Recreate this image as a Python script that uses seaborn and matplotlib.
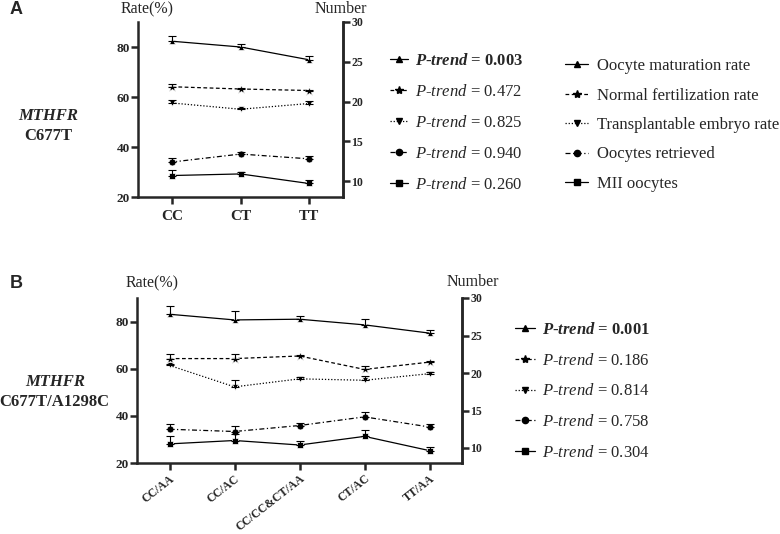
import matplotlib
matplotlib.use("Agg")
import matplotlib.pyplot as plt
from matplotlib.lines import Line2D
import seaborn as sns
import numpy as np
import pandas as pd

# ---------------------------------------------------------------
# Data
# ---------------------------------------------------------------
a_groups = ["CC", "CT", "TT"]
a_maturation = [82.3, 80.0, 74.9]
a_maturation_err = [2.3, 1.3, 1.6]
a_fertilization = [64.1, 63.2, 62.6]
a_fertilization_err = [1.3, 0.4, 0.4]
a_transplant = [57.6, 55.1, 57.4]
a_transplant_err = [1.1, 0.4, 0.9]
a_retrieved = [12.4, 13.4, 12.8]
a_retrieved_err = [0.5, 0.2, 0.3]
a_mii = [10.7, 10.9, 9.7]
a_mii_err = [0.75, 0.3, 0.45]
a_ptrend = ["0.003", "0.472", "0.825", "0.940", "0.260"]

b_groups = ["CC/AA", "CC/AC", "CC/CC&CT/AA", "CT/AC", "TT/AA"]
b_maturation = [83.1, 80.7, 81.0, 78.6, 75.1]
b_maturation_err = [3.3, 3.8, 1.4, 2.4, 1.3]
b_fertilization = [64.3, 64.3, 65.4, 59.7, 62.8]
b_fertilization_err = [2.1, 2.1, 0.4, 1.4, 0.4]
b_transplant = [61.4, 52.3, 55.7, 55.1, 57.9]
b_transplant_err = [0.4, 2.8, 0.9, 1.8, 0.5]
b_retrieved = [12.5, 12.2, 13.0, 14.15, 12.8]
b_retrieved_err = [0.65, 0.75, 0.35, 0.6, 0.35]
b_mii = [10.55, 11.0, 10.4, 11.55, 9.65]
b_mii_err = [1.1, 0.85, 0.5, 0.9, 0.5]
b_ptrend = ["0.001", "0.186", "0.814", "0.758", "0.304"]

series_names = ["Oocyte maturation rate", "Normal fertilization rate",
                "Transplantable embryo rate", "Oocytes retrieved", "MII oocytes"]

# ---------------------------------------------------------------
# Style
# ---------------------------------------------------------------
sns.set_style("ticks")
plt.rcParams['font.family'] = ['Liberation Serif', 'DejaVu Serif']
plt.rcParams['mathtext.fontset'] = 'custom'
plt.rcParams['mathtext.rm'] = 'Liberation Serif'
plt.rcParams['mathtext.it'] = 'Liberation Serif:italic'
plt.rcParams['mathtext.bf'] = 'Liberation Serif:bold'
plt.rcParams['mathtext.bfit'] = 'Liberation Serif:italic:bold'

styles = [
    dict(marker="^", linestyle="-", markersize=5),
    dict(marker="*", linestyle=(0, (3, 2)), markersize=6.5),
    dict(marker="v", linestyle=(0, (1, 1.5)), markersize=5),
    dict(marker="o", linestyle=(0, (4, 2, 1, 2)), markersize=5),
    dict(marker="s", linestyle="-", markersize=5),
]

W, H = 780, 534
fig = plt.figure(figsize=(W / 100, H / 100), dpi=100)


def px_axes(x0, y0, x1, y1):
    return fig.add_axes([x0 / W, 1 - y1 / H, (x1 - x0) / W, (y1 - y0) / H])


def draw_panel(ax, groups, rates, rate_errs, nums, num_errs, rotate):
    ax2 = ax.twinx()
    for i, (vals, errs) in enumerate(zip(rates, rate_errs)):
        df = pd.DataFrame({"group": groups, "value": vals})
        st = styles[i]
        sns.lineplot(data=df, x="group", y="value", ax=ax, color="black", lw=0.9,
                     marker=st["marker"], markersize=st["markersize"],
                     linestyle=st["linestyle"], markeredgewidth=0.5, sort=False)
        ax.errorbar(groups, vals, yerr=[np.zeros(len(errs)), errs], fmt="none",
                    ecolor="black", elinewidth=0.8, capsize=3, capthick=0.8)
    for j, (vals, errs) in enumerate(zip(nums, num_errs)):
        df = pd.DataFrame({"group": groups, "value": vals})
        st = styles[3 + j]
        sns.lineplot(data=df, x="group", y="value", ax=ax2, color="black", lw=0.9,
                     marker=st["marker"], markersize=st["markersize"],
                     linestyle=st["linestyle"], markeredgewidth=0.5, sort=False)
        ax2.errorbar(groups, vals, yerr=[np.zeros(len(errs)), errs], fmt="none",
                     ecolor="black", elinewidth=0.8, capsize=3, capthick=0.8)

    ax.set_xlim(-0.5, len(groups) - 0.5)
    ax.set_ylim(20, 90)
    ax.set_yticks([20, 40, 60, 80])
    ax2.set_ylim(8, 30)
    ax2.set_yticks([10, 15, 20, 25, 30])
    for a in (ax, ax2):
        a.set_xlabel("")
        a.set_ylabel("")
        a.spines["top"].set_visible(False)
        for s in a.spines.values():
            s.set_linewidth(1.8)
        a.tick_params(width=1.8, length=5, labelsize=9.5, pad=1)
        for lab in a.get_yticklabels():
            lab.set_fontweight("bold")
    ax2.spines["left"].set_visible(False)
    ax2.spines["bottom"].set_visible(False)
    ax2.tick_params(labelsize=8.5)
    for lab in ax2.get_yticklabels():
        lab.set_fontweight("bold")
    ax.set_xticks(range(len(groups)))
    ax.set_xticklabels(groups, fontweight="bold")
    if rotate:
        ax.tick_params(axis="x", pad=2)
        for lab in ax.get_xticklabels():
            lab.set_rotation(38)
            lab.set_ha("right")
            lab.set_rotation_mode("anchor")
            lab.set_fontsize(8.5)
    else:
        ax.tick_params(axis="x", labelsize=11, pad=4)
    return ax2


def handles():
    return [Line2D([0], [0], color="black", lw=0.9, marker=st["marker"],
                   markersize=st["markersize"] - 0.5, linestyle=st["linestyle"])
            for st in styles]


def ptrend_labels(vals):
    labs = [r"$\mathbfit{P}$-$\mathbfit{trend}$ = " + vals[0]]
    labs += [r"$\mathit{P}$-$\mathit{trend}$ = " + v for v in vals[1:]]
    return labs


# ---------------------------------------------------------------
# Panel A
# ---------------------------------------------------------------
axA = px_axes(138, 22, 343, 197)
draw_panel(axA, a_groups, [a_maturation, a_fertilization, a_transplant],
           [a_maturation_err, a_fertilization_err, a_transplant_err],
           [a_retrieved, a_mii], [a_retrieved_err, a_mii_err], rotate=False)

legA = fig.legend(handles(), ptrend_labels(a_ptrend), loc="upper left",
                  bbox_to_anchor=(390 / W, 1 - 53 / H), frameon=False, fontsize=12,
                  borderpad=0, borderaxespad=0, handlelength=1.1, handletextpad=0.4,
                  labelspacing=0.9)
legA.get_texts()[0].set_fontweight("bold")

fig.legend(handles(), series_names, loc="upper left",
           bbox_to_anchor=(565 / W, 1 - 58 / H), frameon=False, fontsize=12,
           borderpad=0, borderaxespad=0, handlelength=1.4, handletextpad=0.5,
           labelspacing=0.81)

fig.text(10 / W, 1 - 10 / H, "A", family="Liberation Sans", fontweight="bold",
         fontsize=13, va="center", ha="left")
fig.text(147 / W, 1 - 9 / H, "Rate(%)", fontsize=11.5, ha="center", va="center")
fig.text(341 / W, 1 - 9 / H, "Number", fontsize=11.5, ha="center", va="center")
fig.text(48 / W, 1 - 116 / H, "MTHFR", fontsize=12, fontstyle="italic",
         fontweight="bold", ha="center", va="center")
fig.text(48 / W, 1 - 136 / H, "C677T", fontsize=12, fontweight="bold",
         ha="center", va="center")

# ---------------------------------------------------------------
# Panel B
# ---------------------------------------------------------------
axB = px_axes(137, 298, 462, 463)
draw_panel(axB, b_groups, [b_maturation, b_fertilization, b_transplant],
           [b_maturation_err, b_fertilization_err, b_transplant_err],
           [b_retrieved, b_mii], [b_retrieved_err, b_mii_err], rotate=True)

legB = fig.legend(handles(), ptrend_labels(b_ptrend), loc="upper left",
                  bbox_to_anchor=(515 / W, 1 - 322 / H), frameon=False, fontsize=12,
                  borderpad=0, borderaxespad=0, handlelength=1.2, handletextpad=0.4,
                  labelspacing=0.88)
legB.get_texts()[0].set_fontweight("bold")

fig.text(10 / W, 1 - 283 / H, "B", family="Liberation Sans", fontweight="bold",
         fontsize=13, va="center", ha="left")
fig.text(152 / W, 1 - 283 / H, "Rate(%)", fontsize=11.5, ha="center", va="center")
fig.text(473 / W, 1 - 282 / H, "Number", fontsize=11.5, ha="center", va="center")
fig.text(55 / W, 1 - 382 / H, "MTHFR", fontsize=12, fontstyle="italic",
         fontweight="bold", ha="center", va="center")
fig.text(54 / W, 1 - 402 / H, "C677T/A1298C", fontsize=12, fontweight="bold",
         ha="center", va="center")

fig.savefig("out.png", dpi=100)
